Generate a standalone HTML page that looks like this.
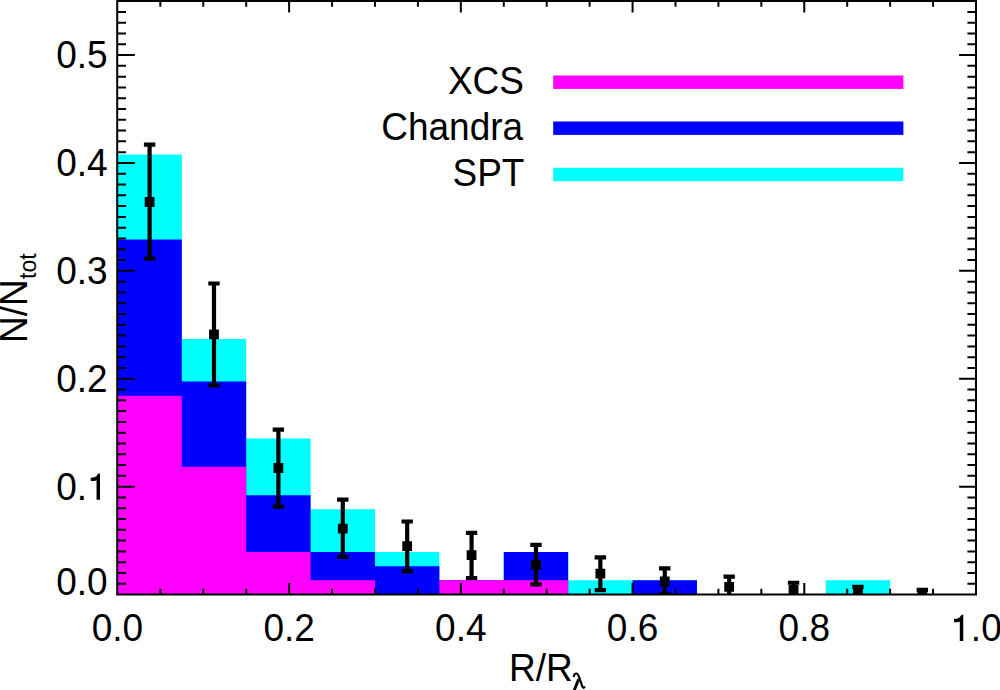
<!DOCTYPE html>
<html><head><meta charset="utf-8"><style>
html,body{margin:0;padding:0;background:#fff;width:1000px;height:690px;overflow:hidden}
svg{display:block}
text{font-family:"Liberation Sans",sans-serif}
</style></head><body><svg width="1000" height="690" viewBox="0 0 1000 690"><defs><clipPath id="c"><rect x="117.2" y="1.0" width="858.8" height="593.5"/></clipPath></defs><g clip-path="url(#c)"><path d="M117.40 597.5L117.40 154.43L181.80 154.43L181.80 339.00L246.19 339.00L246.19 438.38L310.58 438.38L310.58 509.37L374.98 509.37L374.98 551.96L439.38 551.96L439.38 580.35L503.77 580.35L503.77 551.96L568.17 551.96L568.17 580.35L632.56 580.35L632.56 580.35L696.95 580.35L696.95 597.50L761.35 597.50L761.35 597.50L825.75 597.50L825.75 580.35L890.14 580.35L890.14 597.5Z" fill="#00ffff"/><path d="M117.40 597.5L117.40 239.62L181.80 239.62L181.80 381.59L246.19 381.59L246.19 495.17L310.58 495.17L310.58 551.96L374.98 551.96L374.98 566.16L439.38 566.16L439.38 580.35L503.77 580.35L503.77 551.96L568.17 551.96L568.17 597.50L632.56 597.50L632.56 580.35L696.95 580.35L696.95 597.50L761.35 597.50L761.35 597.50L825.75 597.50L825.75 597.50L890.14 597.50L890.14 597.5Z" fill="#0000ff"/><path d="M117.40 597.5L117.40 395.79L181.80 395.79L181.80 466.77L246.19 466.77L246.19 551.96L310.58 551.96L310.58 580.35L374.98 580.35L374.98 597.50L439.38 597.50L439.38 580.35L503.77 580.35L503.77 580.35L568.17 580.35L568.17 597.50L632.56 597.50L632.56 597.50L696.95 597.50L696.95 597.50L761.35 597.50L761.35 597.50L825.75 597.50L825.75 597.50L890.14 597.50L890.14 597.5Z" fill="#ff00ff"/><path d="M147.50 144.70h4.2V258.60h-4.2ZM143.90 142.60h11.4v4.2h-11.4ZM143.90 256.50h11.4v4.2h-11.4ZM144.70 197.10h9.8v9.8h-9.8ZM211.89 283.50h4.2V385.40h-4.2ZM208.29 281.40h11.4v4.2h-11.4ZM208.29 383.30h11.4v4.2h-11.4ZM209.09 329.40h9.8v9.8h-9.8ZM276.29 429.60h4.2V506.60h-4.2ZM272.69 427.50h11.4v4.2h-11.4ZM272.69 504.50h11.4v4.2h-11.4ZM273.49 463.10h9.8v9.8h-9.8ZM340.68 499.60h4.2V557.00h-4.2ZM337.08 497.50h11.4v4.2h-11.4ZM337.08 554.90h11.4v4.2h-11.4ZM337.88 523.70h9.8v9.8h-9.8ZM405.08 521.50h4.2V571.10h-4.2ZM401.48 519.40h11.4v4.2h-11.4ZM401.48 569.00h11.4v4.2h-11.4ZM402.28 541.30h9.8v9.8h-9.8ZM469.47 532.80h4.2V578.00h-4.2ZM465.87 530.70h11.4v4.2h-11.4ZM465.87 575.90h11.4v4.2h-11.4ZM466.67 550.20h9.8v9.8h-9.8ZM533.87 544.90h4.2V584.40h-4.2ZM530.27 542.80h11.4v4.2h-11.4ZM530.27 582.30h11.4v4.2h-11.4ZM531.07 559.90h9.8v9.8h-9.8ZM598.26 557.40h4.2V590.20h-4.2ZM594.66 555.30h11.4v4.2h-11.4ZM594.66 588.10h11.4v4.2h-11.4ZM595.46 568.80h9.8v9.8h-9.8ZM662.66 568.30h4.2V594.30h-4.2ZM659.06 566.20h11.4v4.2h-11.4ZM659.06 592.20h11.4v4.2h-11.4ZM659.86 576.40h9.8v9.8h-9.8ZM727.05 576.60h4.2V597.00h-4.2ZM723.45 574.50h11.4v4.2h-11.4ZM723.45 594.90h11.4v4.2h-11.4ZM724.25 581.90h9.8v9.8h-9.8ZM791.45 582.75h4.2V597.30h-4.2ZM787.85 580.65h11.4v4.2h-11.4ZM787.85 595.20h11.4v4.2h-11.4ZM788.65 585.10h9.8v9.8h-9.8ZM855.84 586.80h4.2V599.60h-4.2ZM852.24 584.70h11.4v4.2h-11.4ZM852.24 597.50h11.4v4.2h-11.4ZM853.04 588.30h9.8v9.8h-9.8ZM920.24 589.90h4.2V604.00h-4.2ZM916.64 587.80h11.4v4.2h-11.4ZM916.64 601.90h11.4v4.2h-11.4ZM917.44 592.00h9.8v9.8h-9.8Z" fill="#000"/></g><path d="M117.20 583.76h8.8M976.00 583.76h-8.6M117.20 572.97h8.8M976.00 572.97h-8.6M117.20 562.18h8.8M976.00 562.18h-8.6M117.20 551.39h8.8M976.00 551.39h-8.6M117.20 540.60h8.8M976.00 540.60h-8.6M117.20 529.81h8.8M976.00 529.81h-8.6M117.20 519.02h8.8M976.00 519.02h-8.6M117.20 508.23h8.8M976.00 508.23h-8.6M117.20 497.44h8.8M976.00 497.44h-8.6M117.20 486.65h17.6M976.00 486.65h-16.9M117.20 475.86h8.8M976.00 475.86h-8.6M117.20 465.07h8.8M976.00 465.07h-8.6M117.20 454.28h8.8M976.00 454.28h-8.6M117.20 443.49h8.8M976.00 443.49h-8.6M117.20 432.70h8.8M976.00 432.70h-8.6M117.20 421.91h8.8M976.00 421.91h-8.6M117.20 411.12h8.8M976.00 411.12h-8.6M117.20 400.33h8.8M976.00 400.33h-8.6M117.20 389.54h8.8M976.00 389.54h-8.6M117.20 378.75h17.6M976.00 378.75h-16.9M117.20 367.96h8.8M976.00 367.96h-8.6M117.20 357.17h8.8M976.00 357.17h-8.6M117.20 346.38h8.8M976.00 346.38h-8.6M117.20 335.59h8.8M976.00 335.59h-8.6M117.20 324.80h8.8M976.00 324.80h-8.6M117.20 314.01h8.8M976.00 314.01h-8.6M117.20 303.22h8.8M976.00 303.22h-8.6M117.20 292.43h8.8M976.00 292.43h-8.6M117.20 281.64h8.8M976.00 281.64h-8.6M117.20 270.85h17.6M976.00 270.85h-16.9M117.20 260.06h8.8M976.00 260.06h-8.6M117.20 249.27h8.8M976.00 249.27h-8.6M117.20 238.48h8.8M976.00 238.48h-8.6M117.20 227.69h8.8M976.00 227.69h-8.6M117.20 216.90h8.8M976.00 216.90h-8.6M117.20 206.11h8.8M976.00 206.11h-8.6M117.20 195.32h8.8M976.00 195.32h-8.6M117.20 184.53h8.8M976.00 184.53h-8.6M117.20 173.74h8.8M976.00 173.74h-8.6M117.20 162.95h17.6M976.00 162.95h-16.9M117.20 152.16h8.8M976.00 152.16h-8.6M117.20 141.37h8.8M976.00 141.37h-8.6M117.20 130.58h8.8M976.00 130.58h-8.6M117.20 119.79h8.8M976.00 119.79h-8.6M117.20 109.00h8.8M976.00 109.00h-8.6M117.20 98.21h8.8M976.00 98.21h-8.6M117.20 87.42h8.8M976.00 87.42h-8.6M117.20 76.63h8.8M976.00 76.63h-8.6M117.20 65.84h8.8M976.00 65.84h-8.6M117.20 55.05h17.6M976.00 55.05h-16.9M117.20 44.26h8.8M976.00 44.26h-8.6M117.20 33.47h8.8M976.00 33.47h-8.6M117.20 22.68h8.8M976.00 22.68h-8.6M117.20 11.89h8.8M976.00 11.89h-8.6M160.33 594.50v-5.8M160.33 1.00v5.8M203.26 594.50v-5.8M203.26 1.00v5.8M246.19 594.50v-5.8M246.19 1.00v5.8M289.12 594.50v-11.5M289.12 1.00v11.5M332.05 594.50v-5.8M332.05 1.00v5.8M374.98 594.50v-5.8M374.98 1.00v5.8M417.91 594.50v-5.8M417.91 1.00v5.8M460.84 594.50v-11.5M460.84 1.00v11.5M503.77 594.50v-5.8M503.77 1.00v5.8M546.70 594.50v-5.8M546.70 1.00v5.8M589.63 594.50v-5.8M589.63 1.00v5.8M632.56 594.50v-11.5M632.56 1.00v11.5M675.49 594.50v-5.8M675.49 1.00v5.8M718.42 594.50v-5.8M718.42 1.00v5.8M761.35 594.50v-5.8M761.35 1.00v5.8M804.28 594.50v-11.5M804.28 1.00v11.5M847.21 594.50v-5.8M847.21 1.00v5.8M890.14 594.50v-5.8M890.14 1.00v5.8M933.07 594.50v-5.8M933.07 1.00v5.8" stroke="#000" stroke-width="2" fill="none"/><rect x="117.20" y="1.00" width="858.80" height="593.50" stroke="#000" stroke-width="2" fill="none"/><rect x="553.2" y="75.50" width="350.20" height="13.4" fill="#ff00ff"/><rect x="553.2" y="121.50" width="350.20" height="13.4" fill="#0000ff"/><rect x="553.2" y="167.80" width="350.20" height="13.4" fill="#00ffff"/><g font-family="Liberation Sans, sans-serif" font-size="37.0" fill="#000"><text transform="translate(524.00 93.80) scale(1 1.0436)" text-anchor="end">XCS</text><text transform="translate(523.10 139.90) scale(1 1.0436)" text-anchor="end">Chandra</text><text transform="translate(524.40 186.10) scale(1 1.0436)" text-anchor="end">SPT</text><text transform="translate(56.16 594.70) scale(1 1.0436)">0.0</text><text transform="translate(56.16 499.80) scale(1 1.0436)">0.</text><path transform="translate(87.02 499.80)" d="M9.52 0H12.98V-26.35H11.2C10.4 -24.4 8.6 -22.9 7.2 -22.6C6 -22.3 4.8 -22.1 3.72 -22.05V-18.85H7C8 -18.85 9 -19.1 9.52 -19.5Z"/><text transform="translate(56.16 391.90) scale(1 1.0436)">0.2</text><text transform="translate(56.16 284.00) scale(1 1.0436)">0.3</text><text transform="translate(56.16 176.10) scale(1 1.0436)">0.4</text><text transform="translate(56.16 68.20) scale(1 1.0436)">0.5</text><text transform="translate(91.68 641.00) scale(1 1.0436)">0.0</text><text transform="translate(263.40 641.00) scale(1 1.0436)">0.2</text><text transform="translate(435.12 641.00) scale(1 1.0436)">0.4</text><text transform="translate(606.84 641.00) scale(1 1.0436)">0.6</text><text transform="translate(778.56 641.00) scale(1 1.0436)">0.8</text><path transform="translate(950.28 641.00)" d="M9.52 0H12.98V-26.35H11.2C10.4 -24.4 8.6 -22.9 7.2 -22.6C6 -22.3 4.8 -22.1 3.72 -22.05V-18.85H7C8 -18.85 9 -19.1 9.52 -19.5Z"/><text transform="translate(970.86 641.00) scale(1 1.0436)">.0</text><text transform="translate(509.00 680.90) scale(1 1.0436)">R/R</text><path d="M573.8 677C573.9 674.6 575 673.5 576.3 673.5C577.7 673.5 578.3 674.8 578.9 676.6L582.2 686.2C582.8 688 584 688.5 584.8 686.4" stroke="#000" stroke-width="2.2" fill="none"/><path d="M578.6 679.2L574 691" stroke="#000" stroke-width="2.9" fill="none"/><g transform="translate(27.4 343) rotate(-90)"><text transform="translate(0.00 0.00) scale(1 1.0436)">N/N</text><text transform="translate(64.10 8.80) scale(1 1.0436)" font-size="23">tot</text></g></g></svg></body></html>
